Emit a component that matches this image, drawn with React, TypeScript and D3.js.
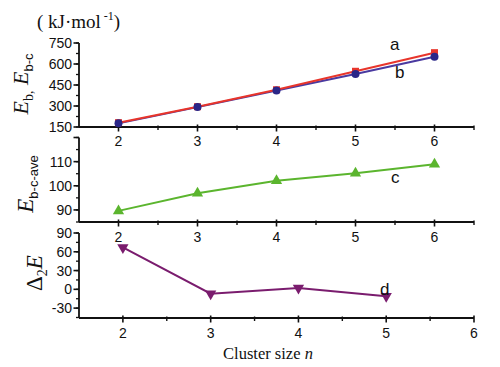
import React from 'react';
import * as d3 from 'd3';

const clusterTop = [2, 3, 4, 5, 6];
const seriesA = [181, 295, 416, 548, 681];
const seriesB = [176, 292, 410, 528, 652];
const clusterMid = [2, 3, 4, 5, 6];
const seriesC = [89.6, 96.9, 102.1, 105.2, 108.9];
const clusterBot = [2, 3, 4, 5];
const seriesD = [67, -7, 2, -11];
const xTicks = [2, 3, 4, 5, 6];
const topYTicks = [150, 300, 450, 600, 750];
const midYTicks = [90, 100, 110];
const botYTicks = [-30, 0, 30, 60, 90];

const SANS = 'Arial, "Liberation Sans", Helvetica, sans-serif';
const SERIF = '"Times New Roman", "Liberation Serif", serif';

const AXL = 79;

const xTop = d3.scaleLinear().domain([1.5, 6.5]).range([AXL, 474]);
const xBot = d3.scaleLinear().domain([1.5, 6]).range([AXL, 474]);
const yTop = d3.scaleLinear().domain([150, 750]).range([127, 43]);
const yMid = d3.scaleLinear().domain([85, 120]).range([222, 137.5]);
const yBot = d3.scaleLinear().domain([-45, 90]).range([317.5, 233]);

function LeftAxis({ y, ticks, minorStep, allTicks }: any) {
  const [d0, d1] = y.domain();
  const minors: number[] = [];
  for (let v = d0; v <= d1 + 1e-9; v += minorStep) minors.push(v);
  return (
    <g>
      <line x1={AXL} x2={AXL} y1={y(d0)} y2={y(d1)} stroke="#111" strokeWidth={1.8} />
      {minors.map((v, i) => (
        <line key={'m' + i} x1={AXL - 3} x2={AXL} y1={y(v)} y2={y(v)} stroke="#111" strokeWidth={1.3} />
      ))}
      {allTicks.map((v: number, i: number) => (
        <line key={'t' + i} x1={AXL - 5.5} x2={AXL} y1={y(v)} y2={y(v)} stroke="#111" strokeWidth={1.6} />
      ))}
      {ticks.map((v: number, i: number) => (
        <text key={'l' + i} x={AXL - 7} y={y(v) + 5} textAnchor="end" fontFamily={SANS} fontSize={14} fill="#111">
          {v}
        </text>
      ))}
    </g>
  );
}

function BottomAxis({ x, yPos, labelY }: any) {
  const [d0, d1] = x.domain();
  const minors: number[] = [];
  for (let v = 2.5; v <= d1 + 1e-9; v += 1) minors.push(v);
  return (
    <g>
      <line x1={x(d0)} x2={x(d1)} y1={yPos} y2={yPos} stroke="#111" strokeWidth={1.8} />
      {minors.map((v, i) => (
        <line key={'m' + i} x1={x(v)} x2={x(v)} y1={yPos - 1.5} y2={yPos + 3} stroke="#111" strokeWidth={1.4} />
      ))}
      {xTicks.map((v, i) => (
        <line key={'t' + i} x1={x(v)} x2={x(v)} y1={yPos - 2.5} y2={yPos + 4.5} stroke="#111" strokeWidth={1.6} />
      ))}
      {xTicks.map((v, i) => (
        <text key={'l' + i} x={x(v)} y={labelY} textAnchor="middle" fontFamily={SANS} fontSize={14} fill="#111">
          {v}
        </text>
      ))}
    </g>
  );
}

export default function App() {
  const lineTop = (vals: number[]) =>
    d3.line<number>().x((_, i) => xTop(clusterTop[i])).y((v) => yTop(v))(vals) || '';
  const lineMid = d3.line<number>().x((_, i) => xTop(clusterMid[i])).y((v) => yMid(v))(seriesC) || '';
  const lineBot = d3.line<number>().x((_, i) => xBot(clusterBot[i])).y((v) => yBot(v))(seriesD) || '';

  const red = '#e8352b';
  const blue = '#2a2688';
  const blueLine = '#4a3aa0';
  const green = '#5bb52e';
  const purple = '#7a1c6e';

  const triUp = d3.symbol(d3.symbolTriangle, 55)() || '';

  return (
    <svg width={500} height={367} style={{ position: 'absolute', left: 0, top: 0, background: '#fff' }}>
      <rect x={0} y={0} width={500} height={367} fill="#fff" />

      {/* Top panel */}
      <LeftAxis y={yTop} ticks={topYTicks} allTicks={topYTicks} minorStep={75} />
      <BottomAxis x={xTop} yPos={127} labelY={146} />
      <path d={lineTop(seriesB)} fill="none" stroke={blueLine} strokeWidth={2} />
      <path d={lineTop(seriesA)} fill="none" stroke={red} strokeWidth={2} />
      {seriesA.map((v, i) => (
        <rect key={'a' + i} x={xTop(clusterTop[i]) - 3.5} y={yTop(v) - 3.5} width={7} height={7} fill={red} />
      ))}
      {seriesB.map((v, i) => (
        <circle key={'b' + i} cx={xTop(clusterTop[i])} cy={yTop(v)} r={4} fill={blue} />
      ))}
      <text x={390} y={50} fontFamily={SANS} fontSize={17} fill="#111">a</text>
      <text x={395} y={78} fontFamily={SANS} fontSize={17} fill="#111">b</text>

      <text x={37} y={28} fontFamily={SERIF} fontSize={19} fill="#111">
        ( kJ·mol
        <tspan fontSize={12} dy={-8}> -1</tspan>
        <tspan dy={8}>)</tspan>
      </text>
      <text transform="translate(28,84) rotate(-90)" textAnchor="middle" fontFamily={SERIF} fontSize={22} fill="#111">
        <tspan fontStyle="italic">E</tspan>
        <tspan fontSize={14} dy={5}>b,</tspan>
        <tspan dy={-5}> </tspan>
        <tspan fontStyle="italic">E</tspan>
        <tspan fontSize={13} fontFamily={SANS} dy={5}>b-c</tspan>
      </text>

      {/* Middle panel */}
      <LeftAxis y={yMid} ticks={midYTicks} allTicks={[90, 100, 110, 120]} minorStep={5} />
      <BottomAxis x={xTop} yPos={222} labelY={242} />
      <path d={lineMid} fill="none" stroke={green} strokeWidth={2} />
      {seriesC.map((v, i) => (
        <path key={'c' + i} d={triUp} transform={`translate(${xTop(clusterMid[i])},${yMid(v)})`} fill={green} />
      ))}
      <text x={391} y={183} fontFamily={SANS} fontSize={17} fill="#111">c</text>
      <text transform="translate(33,184) rotate(-90)" textAnchor="middle" fontFamily={SERIF} fontSize={23} fill="#111">
        <tspan fontStyle="italic">E</tspan>
        <tspan fontSize={13} fontFamily={SANS} dy={5}>b-c-ave</tspan>
      </text>

      {/* Bottom panel */}
      <LeftAxis y={yBot} ticks={botYTicks} allTicks={botYTicks} minorStep={15} />
      <BottomAxis x={xBot} yPos={318} labelY={338} />
      <path d={lineBot} fill="none" stroke={purple} strokeWidth={2} />
      {seriesD.map((v, i) => (
        <path key={'d' + i} d={triUp} transform={`translate(${xBot(clusterBot[i])},${yBot(v)}) rotate(180)`} fill={purple} />
      ))}
      <text x={380} y={295} fontFamily={SANS} fontSize={17} fill="#111">d</text>
      <text transform="translate(42,273) rotate(-90)" textAnchor="middle" fontFamily={SERIF} fontSize={23} fill="#111">
        <tspan>Δ</tspan>
        <tspan fontSize={14} dy={5}>2</tspan>
        <tspan fontStyle="italic" dy={-5}>E</tspan>
      </text>

      <text x={268} y={359} textAnchor="middle" fontFamily={SERIF} fontSize={16.5} fill="#111">
        Cluster size <tspan fontStyle="italic">n</tspan>
      </text>
    </svg>
  );
}
